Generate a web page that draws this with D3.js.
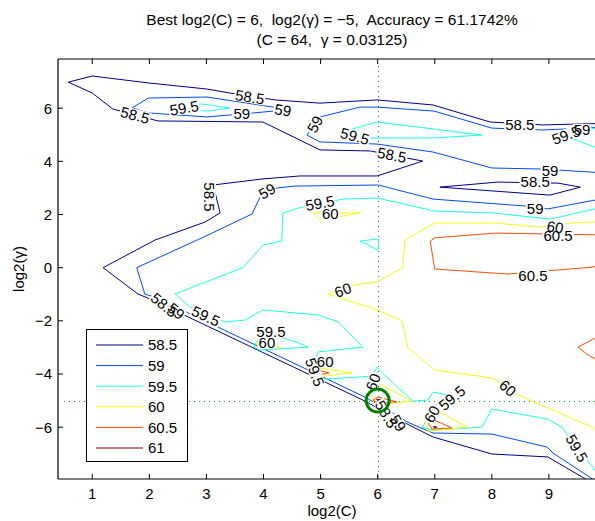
<!DOCTYPE html>
<html>
<head>
<meta charset="utf-8">
<script src="https://cdn.jsdelivr.net/npm/d3@7"></script>
<style>
  body { margin: 0; background: #fff; }
  svg text { font-family: "Liberation Sans", Arial, Helvetica, sans-serif; }
</style>
</head>
<body>
<svg id="chart" width="595" height="521"></svg>
<script>
// ---- grid-search result -------------------------------------------------
const bestLog2C = 6;
const bestLog2G = -5;
const bestAccuracy = 61.1742;

// ---- contour levels and colours (jet) -----------------------------------
const levels = [58.5, 59, 59.5, 60, 60.5, 61];
const levelColors = ["#00008f", "#004dff", "#1affe6", "#f0ff10", "#ff4d00", "#800000"];

// ---- axis ticks ----------------------------------------------------------
const xTicks = [1, 2, 3, 4, 5, 6, 7, 8, 9];
const yTicks = [-6, -4, -2, 0, 2, 4, 6];

// ---- iso-accuracy lines, [log2(C), log2(gamma)] --------------------------
const iso585Main = [[10,5.43],[8.90,5.37],[7.97,5.48],[6.97,6.12],[5.99,6.31],[4.99,6.19],[4.20,6.31],[3.41,6.57],[3.01,6.72],[1.98,6.95],[1.00,7.21],[0.58,6.98],[1.00,6.57],[1.36,5.97],[2.15,5.52],[3.99,5.48],[4.99,4.43],[5.87,4.39],[6.79,4.01],[5.99,3.45],[4.64,3.45],[3.99,3.34],[3.12,3.11],[3.24,2.06],[2.98,1.72],[2.10,1.04],[1.19,0],[1.80,-0.99],[2.06,-1.22],[5.74,-4.98],[6.55,-5.92],[6.97,-6.37],[8.00,-7.01],[8.98,-7.12],[9.84,-8.2]];
const iso585Loop = [[7.09,3.03],[8.11,3.22],[9.16,3.18],[9.55,3.03],[9.02,2.73],[7.09,3.03]];

const iso59Top = [[1.70,6.01],[1.98,6.38],[3.01,6.42],[4.17,6.04],[4.50,5.93],[4.17,5.89],[3.82,5.82],[3.01,5.67],[1.98,5.82],[1.70,6.01]];
const iso59Upper = [[10,5.29],[8.90,5.18],[8.00,5.25],[6.99,5.89],[5.99,6.04],[5.69,6.04],[4.99,5.67],[4.76,4.99],[4.99,4.73],[5.99,4.65],[6.97,4.35],[8.00,3.75],[8.88,3.71],[10,3.56]];
const iso59Lower = [[10,2.62],[8.98,2.21],[8.58,2.32],[6.97,2.58],[6.01,3.11],[4.55,3.07],[4.25,3.00],[3.94,2.66],[3.80,2.02],[2.99,1.19],[1.78,0],[1.92,-0.99],[2.13,-1.14],[5.78,-4.87],[6.55,-5.84],[6.97,-6.22],[8.00,-6.26],[8.97,-6.75],[9.07,-6.97],[9.94,-8.2]];

const iso595TopSmall = [[2.45,6.01],[2.92,6.16],[3.41,6.01],[3.01,5.89],[2.45,6.01]];
const iso595Mid = [[5.34,4.92],[5.43,5.14],[5.99,5.48],[7.83,4.99],[7.00,4.88],[5.99,4.88],[5.34,4.92]];
const iso595Edge = [[10,5.33],[9.23,4.99],[10,4.39]];
const iso595Main = [[10,2.30],[9.02,1.83],[8.00,2.06],[7.00,2.13],[5.99,2.62],[5.39,2.58],[4.60,2.24],[4.34,2.06],[4.32,1.00],[3.99,0.85],[3.64,0],[2.45,-0.99],[2.71,-1.48],[3.33,-2.04],[3.68,-1.97],[3.99,-1.59],[4.96,-1.78],[5.31,-2.04],[5.74,-2.99],[4.96,-3.17],[4.87,-3.55],[4.96,-4.15],[5.11,-4.19],[5.90,-4.08],[5.99,-3.74],[6.08,-3.96],[6.62,-5.02],[6.88,-4.98],[6.97,-4.68],[7.30,-4.83],[7.02,-5.17],[6.78,-6.00],[6.97,-6.11],[7.83,-6.00],[8.00,-5.32],[8.97,-5.69],[9.23,-6.00],[9.49,-6.79],[9.81,-7.61],[10,-8.1]];
const iso595Small = [[5.69,1.00],[6.01,1.08],[6.01,0.66],[5.69,1.00]];
const iso595PeakA = [[3.83,-2.99],[3.97,-2.42],[4.59,-2.80],[4.78,-2.99],[3.94,-3.10],[3.83,-2.99]];

const iso60Main = [[10,1.74],[9.42,1.68],[8.84,1.53],[8.06,1.68],[7.00,1.68],[6.48,1.04],[6.44,0],[5.99,-0.54],[5.60,-0.65],[5.13,-0.99],[5.99,-1.59],[6.43,-2.01],[6.53,-3.02],[7.00,-3.85],[8.00,-4.15],[8.18,-4.34],[8.46,-4.79],[9.76,-6.00],[9.81,-6.11],[10,-6.3]];
const iso60Small = [[4.87,2.06],[5.69,2.06],[4.99,1.79],[4.87,2.06]];
const iso60PeakA = [[3.87,-2.80],[4.29,-2.99],[3.92,-3.06],[3.87,-2.80]];
const iso60PeakB = [[4.90,-3.74],[5.55,-3.96],[4.96,-4.11],[4.90,-3.74]];
const iso60PeakC = [[5.88,-4.68],[6.01,-4.34],[6.60,-5.02],[5.94,-5.17],[5.88,-4.68]];
const iso60PeakD = [[6.83,-5.77],[7.09,-5.43],[7.57,-6.00],[6.88,-6.15],[6.83,-5.77]];

const iso605Main = [[10,1.23],[8.06,1.30],[7.00,1.12],[6.92,1.00],[7.00,-0.05],[8.28,-0.24],[9.76,0.02],[10,0.12]];
const iso605Edge = [[10,-2.43],[9.51,-2.99],[9.69,-3.29],[10,-3.64]];
const iso605PeakB = [[4.94,-3.85],[5.15,-3.96],[4.97,-4.04],[4.94,-3.85]];
const iso605PeakC = [[5.92,-4.98],[6.01,-4.87],[6.34,-5.05],[6.01,-5.09],[5.92,-4.98]];
const iso605PeakD = [[6.88,-5.84],[6.99,-5.73],[7.30,-6.03],[6.95,-6.07],[6.88,-5.84]];

const iso61PeakC = [[5.98,-4.95],[6.06,-4.97],[6.00,-5.01],[5.98,-4.95]];
const iso61PeakD = [[6.98,-5.97],[7.04,-6.00],[6.99,-6.03],[6.98,-5.97]];

const contourSet = [
  [58.5, iso585Main], [58.5, iso585Loop],
  [59, iso59Top], [59, iso59Upper], [59, iso59Lower],
  [59.5, iso595TopSmall], [59.5, iso595Mid], [59.5, iso595Edge], [59.5, iso595Main],
  [59.5, iso595Small], [59.5, iso595PeakA],
  [60, iso60Main], [60, iso60Small], [60, iso60PeakA], [60, iso60PeakB], [60, iso60PeakC], [60, iso60PeakD],
  [60.5, iso605Main], [60.5, iso605Edge], [60.5, iso605PeakB], [60.5, iso605PeakC], [60.5, iso605PeakD],
  [61, iso61PeakC], [61, iso61PeakD]
];

// ---- inline contour labels ----------------------------------------------
const labelLevels = [58.5,58.5,59.5,59,59,59,59.5,58.5,58.5,59.5,59,59,58.5,59,59,58.5,59.5,60,60,60.5,60.5,60,58.5,59,59.5,59.5,60,59.5,60,60,58.5,59,60,59.5,60,59.5];
const labelPoints = [[3.76,6.42],[1.75,5.74],[2.61,6.01],[3.62,5.78],[4.34,5.93],[4.90,5.40],[5.60,4.95],[6.25,4.24],[8.49,5.37],[9.30,4.99],[9.58,5.18],[9.02,3.67],[8.76,3.22],[8.76,2.24],[4.06,2.88],[3.06,2.66],[4.99,2.43],[5.17,2.02],[9.11,1.53],[9.16,1.19],[8.72,-0.28],[5.39,-0.84],[2.26,-1.40],[2.47,-1.63],[2.99,-1.82],[4.13,-2.42],[4.06,-2.83],[4.90,-3.93],[5.08,-3.55],[5.92,-4.30],[6.15,-5.51],[6.36,-5.84],[6.95,-5.51],[7.30,-4.90],[8.28,-4.53],[9.49,-6.79]];

// ---- layout ---------------------------------------------------------------
const labelAngles = [9,15,-10,0,10,-62,15,11,0,-20,0,0,0,0,-30,90,-10,0,10,0,0,-20,40,40,25,0,0,70,0,-70,60,60,-60,-40,40,60];
const plotLeft = 58, plotTop = 59, plotRight = 606, plotBottom = 479;
const fontSize = 15;
const titleSize = 15.5;

const svg = d3.select("#chart");
const x = d3.scaleLinear().domain([0.4, 10]).range([plotLeft, plotRight]);
const y = d3.scaleLinear().domain([-7.95, 7.85]).range([plotBottom, plotTop]);
const colorOf = d3.scaleOrdinal().domain(levels).range(levelColors);
const line = d3.line().x(d => x(d[0])).y(d => y(d[1]));
const crisp = v => Math.round(v) + 0.5;

svg.append("rect").attr("width", 595).attr("height", 521).attr("fill", "#fff");

svg.append("defs").append("clipPath").attr("id", "plotClip")
  .append("rect")
  .attr("x", plotLeft).attr("y", plotTop)
  .attr("width", plotRight - plotLeft).attr("height", plotBottom - plotTop);

const plot = svg.append("g").attr("clip-path", "url(#plotClip)");

// crosshair through the best parameter pair (pixel-aligned dots)
const green = "#008000";
const dotGreen = "#109a10";
const vx = crisp(x(bestLog2C));
const hy = crisp(y(bestLog2G));
plot.append("line")
  .attr("x1", vx).attr("x2", vx)
  .attr("y1", Math.round(y(7.6))).attr("y2", plotBottom)
  .attr("stroke", dotGreen).attr("stroke-width", 1).attr("stroke-dasharray", "1,4");
plot.append("line")
  .attr("x1", Math.round(x(0.5))).attr("x2", plotRight)
  .attr("y1", hy).attr("y2", hy)
  .attr("stroke", dotGreen).attr("stroke-width", 1).attr("stroke-dasharray", "1,4");

// contour lines
plot.append("g").selectAll("path")
  .data(contourSet)
  .join("path")
  .attr("d", d => line(d[1]))
  .attr("fill", "none")
  .attr("stroke", d => colorOf(d[0]))
  .attr("stroke-width", 1)
  .attr("stroke-linejoin", "round");

// contour labels: white plates first, then all texts on top
const plateLayer = plot.append("g");
const textLayer = plot.append("g");
const labelTransform = (d, i) => `translate(${x(d[0])},${y(d[1])}) rotate(${labelAngles[i]})`;

const texts = textLayer.selectAll("text")
  .data(labelPoints)
  .join("text")
  .attr("transform", labelTransform)
  .attr("text-anchor", "middle")
  .attr("dy", "0.36em")
  .attr("font-size", fontSize)
  .attr("fill", "#000")
  .text((d, i) => String(labelLevels[i]));

const widths = [];
texts.each(function () { widths.push(this.getComputedTextLength()); });

plateLayer.selectAll("rect")
  .data(labelPoints)
  .join("rect")
  .attr("transform", labelTransform)
  .attr("x", (d, i) => -widths[i] / 2 - 1)
  .attr("y", -6)
  .attr("width", (d, i) => widths[i] + 2)
  .attr("height", 12)
  .attr("fill", "#fff");

// marker on the best point
plot.append("circle")
  .attr("cx", x(bestLog2C)).attr("cy", y(bestLog2G))
  .attr("r", 11.5)
  .attr("fill", "none")
  .attr("stroke", green)
  .attr("stroke-width", 3);

// ---- axes frame and ticks --------------------------------------------------
const axes = svg.append("g").attr("stroke", "#000");
axes.append("line").attr("x1", plotLeft).attr("x2", plotLeft).attr("y1", plotTop).attr("y2", plotBottom).attr("stroke-width", 1.2);
axes.append("line").attr("x1", plotLeft).attr("x2", plotRight).attr("y1", plotTop).attr("y2", plotTop).attr("stroke-width", 1.2);
axes.append("line").attr("x1", plotLeft).attr("x2", plotRight).attr("y1", plotBottom).attr("y2", plotBottom).attr("stroke-width", 1.2);
axes.append("line").attr("x1", plotRight).attr("x2", plotRight).attr("y1", plotTop).attr("y2", plotBottom).attr("stroke-width", 1.2);

const tickLen = 5;
xTicks.forEach(t => {
  axes.append("line").attr("x1", x(t)).attr("x2", x(t)).attr("y1", plotBottom).attr("y2", plotBottom - tickLen).attr("stroke-width", 1);
  axes.append("line").attr("x1", x(t)).attr("x2", x(t)).attr("y1", plotTop).attr("y2", plotTop + tickLen).attr("stroke-width", 1);
});
yTicks.forEach(t => {
  axes.append("line").attr("x1", plotLeft).attr("x2", plotLeft + tickLen).attr("y1", y(t)).attr("y2", y(t)).attr("stroke-width", 1);
  axes.append("line").attr("x1", plotRight).attr("x2", plotRight - tickLen).attr("y1", y(t)).attr("y2", y(t)).attr("stroke-width", 1);
});

const fmt = d3.format("d");
svg.append("g").selectAll("text")
  .data(xTicks)
  .join("text")
  .attr("x", d => x(d)).attr("y", 499)
  .attr("text-anchor", "middle")
  .attr("font-size", fontSize)
  .text(d => fmt(d));

svg.append("g").selectAll("text")
  .data(yTicks)
  .join("text")
  .attr("x", 52).attr("y", d => y(d))
  .attr("dy", "0.36em")
  .attr("text-anchor", "end")
  .attr("font-size", fontSize)
  .text(d => fmt(d));

// axis titles
const midX = (plotLeft + plotRight) / 2;
svg.append("text")
  .attr("x", midX).attr("y", 516)
  .attr("text-anchor", "middle").attr("font-size", fontSize)
  .text("log2(C)");
svg.append("text")
  .attr("transform", `translate(24,${(plotTop + plotBottom) / 2}) rotate(-90)`)
  .attr("text-anchor", "middle").attr("font-size", fontSize)
  .text("log2(\u03B3)");

// chart title
const minus = v => String(v).replace("-", "\u2212");
svg.append("text")
  .attr("x", midX).attr("y", 25)
  .attr("text-anchor", "middle").attr("font-size", titleSize)
  .style("white-space", "pre")
  .text(`Best log2(C) = ${bestLog2C},  log2(\u03B3) = ${minus(bestLog2G)},  Accuracy = ${bestAccuracy}%`);
svg.append("text")
  .attr("x", midX).attr("y", 44.5)
  .attr("text-anchor", "middle").attr("font-size", titleSize)
  .style("white-space", "pre")
  .text(`(C = ${Math.pow(2, bestLog2C)},  \u03B3 = ${Math.pow(2, bestLog2G)})`);

// ---- legend -----------------------------------------------------------------
const legend = svg.append("g");
legend.append("rect")
  .attr("x", 86.5).attr("y", 329.5).attr("width", 101).attr("height", 132)
  .attr("fill", "#fff").attr("stroke", "#000").attr("stroke-width", 1);
const rows = legend.selectAll("g.row")
  .data(levels)
  .join("g")
  .attr("class", "row")
  .attr("transform", (d, i) => `translate(0,${345 + i * 20.6})`);
rows.append("line")
  .attr("x1", 96).attr("x2", 143)
  .attr("stroke", d => colorOf(d)).attr("stroke-width", 1);
rows.append("text")
  .attr("x", 148).attr("dy", "0.36em")
  .attr("font-size", fontSize)
  .text(d => String(d));
</script>
</body>
</html>
